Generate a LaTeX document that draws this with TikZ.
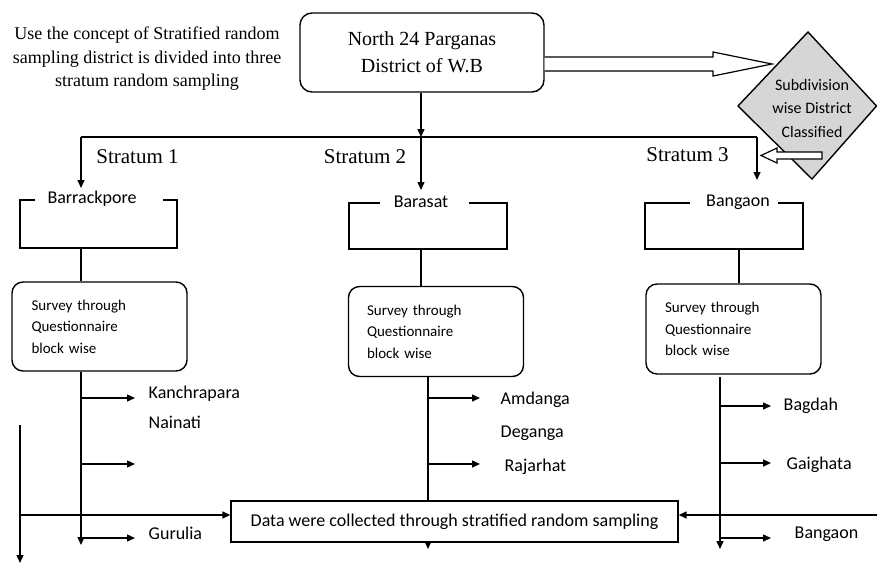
\documentclass[tikz,border=0pt]{standalone}
\usepackage{fontspec}
\setmainfont{Liberation Serif}
\newfontfamily\calfont{Carlito}
\usetikzlibrary{arrows.meta}
\begin{document}
\begin{tikzpicture}[x=1pt,y=-1pt,line width=1.4pt,
  arr/.style={-{Triangle[length=8pt,width=7pt]}},
  surveybox/.style={draw,rounded corners=11pt,minimum width=175pt,minimum height=89pt,
    text width=136pt,align=left,inner xsep=0pt,font=\calfont\fontsize{15}{21.5}\selectfont},
  lab/.style={font=\calfont\fontsize{18}{22}\selectfont,anchor=west,inner sep=0pt},
  brlab/.style={font=\calfont\fontsize{18}{22}\selectfont,inner sep=0pt},
  strat/.style={font=\fontsize{21}{24}\selectfont,inner sep=0pt},
  hollow/.style={draw,fill=white,line width=1.2pt}]
\useasboundingbox (0,0) rectangle (877,563);

% intro text
\node[align=center,font=\fontsize{18}{23.5}\selectfont] (intro) at (147,59)
  {Use the concept of Stratified random\\sampling district is divided into three\\stratum random sampling};

% top box
\node[draw,rounded corners=12pt,minimum width=244pt,minimum height=79pt,align=center,
  font=\fontsize{20}{27}\selectfont] (top) at (422,52.5) {North 24 Parganas\\District of W.B};

% diamond
\coordinate (dl) at (738,106); \coordinate (dt) at (808,32);
\coordinate (dr) at (876.5,106); \coordinate (db) at (812,179);
\draw[fill=black!16] (dl) -- (dt) -- (dr) -- (db) -- cycle;
\node[align=center,font=\calfont\fontsize{16}{23.5}\selectfont] (diam) at (812,108)
  {Subdivision\\wise District\\Classified};

% big hollow arrow
\draw[hollow] (top.east |- 0,57) -- (713,57) -- (713,52) -- (772,64) -- (713,76) -- (713,71) -- (top.east |- 0,71);
% small hollow arrow
\draw[hollow] (822,152) -- (777,152) -- (777,148) -- (761,155.5) -- (777,163) -- (777,159) -- (822,159) -- cycle;

% stratum distribution
\coordinate (h1) at (81,137); \coordinate (h2) at (421,137); \coordinate (h3) at (757,137);
\draw[arr] (top.south -| h2) -- (h2);
\draw (h1) -- (h3);
\draw[arr] (h1) -- (81,188);
\draw[arr] (h2) -- (421,190);
\draw[arr] (h3) -- (757,180);

\node[strat] (st1) at (137.5,157) {Stratum 1};
\node[strat] (st2) at (365,157) {Stratum 2};
\node[strat] (st3) at (687.5,155) {Stratum 3};

% bracket boxes
\node[brlab] (b1) at (92,199) {Barrackpore};
\draw (35,200) -- (20,200) -- (20,248) -- (177,248) -- (177,200) -- (163,200);
\node[brlab] (b2) at (421,202) {Barasat};
\draw (380,203) -- (349,203) -- (349,249) -- (507,249) -- (507,203) -- (469,203);
\node[brlab] (b3) at (738,202) {Bangaon};
\draw (690,203) -- (645,203) -- (645,249) -- (803,249) -- (803,203) -- (778,203);

% survey boxes
\node[surveybox] (s1) at (99.5,326.5) {Survey through\\Questionnaire\\block wise};
\node[surveybox,minimum height=90pt,text width=138pt] (s2) at (436,331.5) {Survey through\\Questionnaire\\block wise};
\node[surveybox,minimum height=90pt,text width=137pt] (s3) at (733.5,329) {Survey through\\Questionnaire\\block wise};

\draw (81,248) -- (s1.north -| 81,0);
\draw (421,249) -- (s2.north -| 421,0);
\draw (739,249) -- (s3.north -| 739,0);

% column 1
\draw[arr] (s1.south -| 81,0) -- (81,545);
\draw[arr] (81,398) -- (135,398);
\draw[arr] (81,464) -- (135,464);
\draw[arr] (81,538) -- (135,538);
\node[lab] (k1) at (148,394) {Kanchrapara};
\node[lab] (k2) at (148,422) {Nainati};
\node[lab] (k3) at (148,533) {Gurulia};

% column 2
\draw[arr] (s2.south -| 428,0) -- (428,549);
\draw[arr] (428,398) -- (480,398);
\draw[arr] (428,464) -- (480,464);
\node[lab] (m1) at (500,400) {Amdanga};
\node[lab] (m2) at (500,433) {Deganga};
\node[lab] (m3) at (504,467) {Rajarhat};

% column 3
\draw[arr] (720,377) -- (720,549);
\draw[arr] (720,406) -- (771,406);
\draw[arr] (720,463) -- (771,463);
\draw[arr] (720,538) -- (771,538);
\node[lab] (g1) at (783,406) {Bagdah};
\node[lab] (g2) at (786,465) {Gaighata};
\node[lab] (g3) at (794,534) {Bangaon};

% data box
\node[draw,fill=white,minimum width=447pt,minimum height=41pt,
  font=\calfont\fontsize{18}{22}\selectfont] (data) at (454.5,521.5)
  {Data were collected through stratified random sampling};

% side connectors
\coordinate (lt) at (20,425);
\draw[arr] (lt) -- (20,563);
\draw[arr] (20,515) -- (data.west |- 0,515);
\coordinate (rt) at (877,515);
\draw[arr] (rt) -- (data.east |- rt);
\end{tikzpicture}
\end{document}
